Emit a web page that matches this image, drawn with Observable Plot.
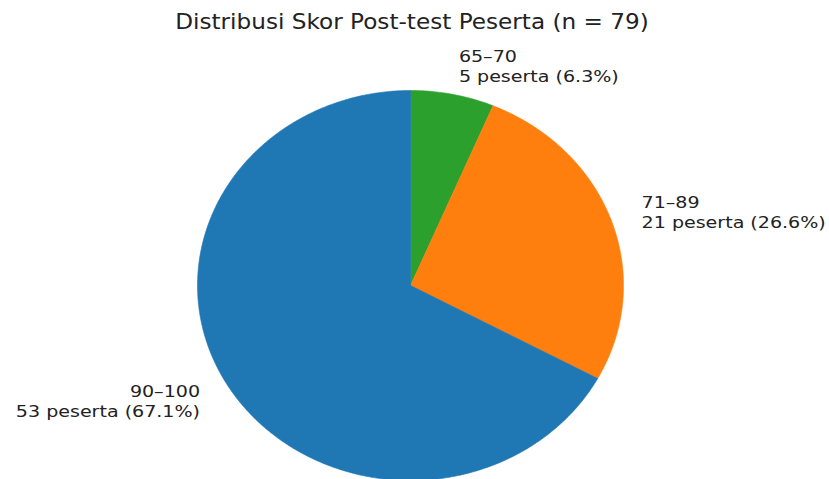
<!DOCTYPE html>
<html>
<head>
<meta charset="utf-8">
<script src="https://cdn.jsdelivr.net/npm/d3@7"></script>
<script src="https://cdn.jsdelivr.net/npm/@observablehq/plot@0.6"></script>
<style>
  html, body { margin: 0; padding: 0; background: #fff; }
  svg { display: block; }
</style>
</head>
<body>
<div id="chart"></div>
<script>
// ---- data ----
const title = "Distribusi Skor Post-test Peserta (n = 79)";
const categories = ["65–70", "71–89", "90–100"];
const counts = [5, 21, 53];
const colors = ["#2ca02c", "#ff7f0e", "#1f77b4"];

const total = d3.sum(counts);
// slices clockwise from 12 o'clock
let acc = 0;
const slices = categories.map((c, i) => {
  const a0 = acc / total * 2 * Math.PI;
  acc += counts[i];
  const a1 = acc / total * 2 * Math.PI;
  return {category: c, count: counts[i], a0, a1, color: colors[i]};
});

function wedge(s) {
  const pts = [{x: 0, y: 0}];
  const n = Math.max(2, Math.ceil((s.a1 - s.a0) / 0.01));
  for (let k = 0; k <= n; k++) {
    const a = s.a0 + (s.a1 - s.a0) * k / n;
    pts.push({x: Math.sin(a), y: Math.cos(a)});
  }
  pts.push({x: 0, y: 0});
  return pts;
}

const labelDist = 1.15;
const labels = slices.map(s => {
  const m = (s.a0 + s.a1) / 2;
  const x = labelDist * Math.sin(m);
  const y = labelDist * Math.cos(m);
  return {
    x, y,
    anchor: x >= 0 ? "start" : "end",
    text: `${s.category}\n${s.count} peserta (${(s.count / total * 100).toFixed(1)}%)`
  };
});

const marks = [];
for (const s of slices) {
  marks.push(Plot.line(wedge(s), {x: "x", y: "y", fill: s.color, stroke: s.color, strokeWidth: 0.6, curve: "linear"}));
}
marks.push(Plot.text(labels.filter(d => d.anchor === "start"), {
  x: "x", y: "y", text: "text", textAnchor: "start", lineAnchor: "middle",
  lineHeight: 1.3, fontSize: 15.5, fill: "#222", className: "lbl"
}));
marks.push(Plot.text(labels.filter(d => d.anchor === "end"), {
  x: "x", y: "y", text: "text", textAnchor: "end", lineAnchor: "middle",
  lineHeight: 1.3, fontSize: 15.5, fill: "#222", className: "lbl"
}));
marks.push(Plot.text([title], {
  frameAnchor: "top", dy: 21.5, dx: -3, text: d => d, lineAnchor: "middle", fontSize: 20.5, fill: "#222", className: "ttl"
}));

const chart = Plot.plot({
  width: 829,
  height: 479,
  margin: 0,
  style: {fontFamily: "DejaVu Sans", background: "#fff"},
  x: {domain: [-1, 1], range: [197, 623], axis: null},
  y: {domain: [-1, 1], range: [480, 90], axis: null},
  marks
});
document.getElementById("chart").appendChild(chart);

// reference glyphs are horizontally stretched; widen text about its anchor
function widen(sel, s) {
  chart.querySelectorAll(sel).forEach(t => {
    const ax = parseFloat(t.getAttribute("x")) || 0;
    const tr = t.getAttribute("transform") || "";
    t.setAttribute("transform", `${tr} translate(${ax},0) scale(${s},1) translate(${-ax},0)`);
  });
}
widen("g.lbl text", 1.23);
widen("g.ttl text", 1.13);
</script>
</body>
</html>
